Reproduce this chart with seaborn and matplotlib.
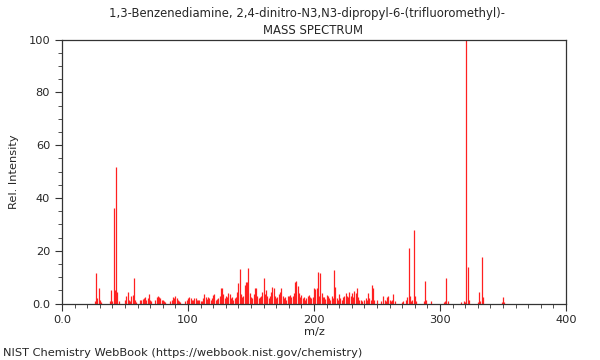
import numpy as np
import matplotlib
matplotlib.use("Agg")
import matplotlib.pyplot as plt
import seaborn as sns
from matplotlib.ticker import MultipleLocator, FixedLocator, FixedFormatter

# peak list (m/z, relative intensity)
mz = [
    26, 27, 28, 29, 30, 31, 38, 39, 40, 41, 42, 43, 44, 45,
    50, 51, 52, 53, 54, 55, 56, 57, 58, 59, 62, 63, 64, 65, 66, 67, 68, 69, 70, 71,
    74, 75, 76, 77, 78, 79, 80, 81, 82, 86, 87, 88, 89, 90, 91, 92, 93, 94,
    98, 99, 100, 101, 102, 103, 104, 105, 106, 107, 108, 109, 110, 111,
    112, 113, 114, 115, 116, 117, 118, 119, 120, 121, 122, 123, 124, 125,
    126, 127, 128, 129, 130, 131, 132, 133, 134, 135, 136, 137, 138, 139,
    140, 141, 142, 143, 144, 145, 146, 147, 148, 149, 150, 151, 152, 153,
    154, 155, 156, 157, 158, 159, 160, 161, 162, 163, 164, 165, 166, 167,
    168, 169, 170, 171, 172, 173, 174, 175, 176, 177, 178, 179, 180, 181,
    182, 183, 184, 185, 186, 187, 188, 189, 190, 191, 192, 193, 194, 195,
    196, 197, 198, 199, 200, 201, 202, 203, 204, 205, 206, 207, 208, 209,
    210, 211, 212, 213, 214, 215, 216, 217, 218, 219, 220, 221, 222, 223,
    224, 225, 226, 227, 228, 229, 230, 231, 232, 233, 234, 235, 236, 237,
    238, 240, 241, 242, 243, 244, 245, 246, 247, 248, 250, 253, 255, 256,
    257, 258, 259, 260, 261, 262, 263, 264, 270, 271, 273, 274, 275, 276,
    277, 278, 279, 280, 281, 287, 288, 289, 293, 303, 304, 305, 306, 317,
    319, 320, 321, 322, 323, 330, 331, 332, 333, 334, 349, 350, 351,
]
intensity = [
    1.0, 11.5, 2.0, 5.7, 1.3, 0.5, 1.0, 5.1, 0.8, 36.3, 5.1, 51.6, 4.2, 0.8,
    1.5, 2.8, 4.2, 1.5, 1.0, 2.8, 3.2, 9.8, 1.5, 0.6, 1.2, 1.5, 1.8, 2.0, 2.5, 1.5, 2.2, 3.6, 1.5, 1.0,
    1.2, 2.3, 2.8, 2.3, 2.0, 1.3, 1.3, 0.8, 0.6, 1.0, 1.5, 2.6, 2.0, 3.0, 2.2, 1.5, 0.8, 0.5,
    1.0, 1.5, 2.0, 2.5, 2.0, 1.2, 1.5, 2.0, 2.0, 1.3, 1.2, 1.5, 1.0, 0.8,
    2.2, 3.5, 2.5, 1.8, 2.5, 2.0, 1.5, 2.2, 3.4, 3.5, 1.5, 1.8, 2.2, 3.0,
    5.9, 5.9, 3.5, 2.0, 3.0, 2.5, 4.0, 3.5, 2.2, 2.5, 1.5, 2.0, 2.5, 4.5,
    7.6, 12.9, 3.5, 2.5, 2.8, 7.0, 8.0, 8.2, 13.3, 4.0, 2.5, 2.0, 3.5, 5.9,
    5.9, 3.0, 2.0, 2.5, 3.0, 4.5, 9.8, 3.5, 5.0, 2.8, 2.2, 3.0, 4.5, 6.4,
    6.0, 3.0, 2.0, 2.5, 3.5, 4.5, 5.7, 3.0, 2.0, 2.5, 1.5, 2.8, 3.0, 3.3,
    2.5, 3.0, 4.0, 8.0, 8.7, 6.5, 4.0, 2.5, 3.4, 2.0, 2.5, 1.5, 2.0, 2.8,
    3.3, 2.5, 2.0, 2.5, 6.0, 5.5, 6.0, 11.8, 3.0, 11.5, 4.0, 2.5, 2.4, 1.8,
    3.3, 2.8, 2.0, 1.5, 3.0, 2.0, 12.7, 6.4, 2.0, 1.5, 3.5, 2.0, 1.5, 2.5,
    3.0, 4.0, 3.0, 2.5, 4.5, 3.0, 4.0, 2.5, 4.7, 4.0, 5.7, 2.5, 1.5, 1.5,
    1.0, 1.2, 2.0, 1.5, 4.0, 2.0, 1.5, 7.0, 5.7, 1.5, 1.3, 0.8, 2.8, 1.5,
    1.0, 2.3, 2.8, 1.2, 0.8, 1.5, 3.6, 0.8, 0.6, 1.0, 1.2, 2.3, 20.9, 2.8,
    1.0, 1.5, 27.8, 2.8, 0.8, 1.0, 8.5, 1.5, 1.0, 0.5, 0.8, 9.5, 1.0, 0.5,
    1.0, 0.6, 100.0, 13.8, 1.5, 0.5, 4.5, 1.0, 17.5, 2.4, 0.5, 2.5, 0.6,
]

title_line1 = "1,3-Benzenediamine, 2,4-dinitro-N3,N3-dipropyl-6-(trifluoromethyl)-"
title_line2 = "MASS SPECTRUM"
footer = "NIST Chemistry WebBook (https://webbook.nist.gov/chemistry)"

sns.set_style("ticks")
plt.rcParams["font.family"] = ["DejaVu Sans"]

fig = plt.figure(figsize=(6, 3.6), dpi=100)
ax = fig.add_axes([62 / 600, 1 - 303.5 / 360, 504 / 600, 264 / 360])

ax.vlines(mz, 0, intensity, colors="#ff2020", linewidth=0.9)

ax.set_xlim(0, 400)
ax.set_ylim(0, 100)

ax.xaxis.set_major_locator(FixedLocator([0, 100, 200, 300, 400]))
ax.xaxis.set_major_formatter(FixedFormatter(["0.0", "100", "200", "300", "400"]))
ax.xaxis.set_minor_locator(MultipleLocator(10))
ax.yaxis.set_major_locator(FixedLocator([0, 20, 40, 60, 80, 100]))
ax.yaxis.set_major_formatter(FixedFormatter(["0.0", "20", "40", "60", "80", "100"]))
ax.yaxis.set_minor_locator(MultipleLocator(5))

ax.tick_params(which="major", length=5, width=0.8, labelsize=8.2, color="#333333")
ax.tick_params(which="minor", length=3, width=0.6, color="#333333")
for s in ax.spines.values():
    s.set_visible(True)
    s.set_linewidth(0.9)
    s.set_color("#333333")

ax.set_xlabel("m/z", fontsize=8.2, labelpad=1)
ax.set_ylabel("Rel. Intensity", fontsize=8.2, labelpad=7)

fig.text(307 / 600, 1 - 13 / 360, title_line1, ha="center", va="center", fontsize=8.4)
fig.text(313 / 600, 1 - 30 / 360, title_line2, ha="center", va="center", fontsize=8.4)
fig.text(3 / 600, 1 - 353 / 360, footer, ha="left", va="center", fontsize=8.2)

fig.savefig("out.png", dpi=100)
